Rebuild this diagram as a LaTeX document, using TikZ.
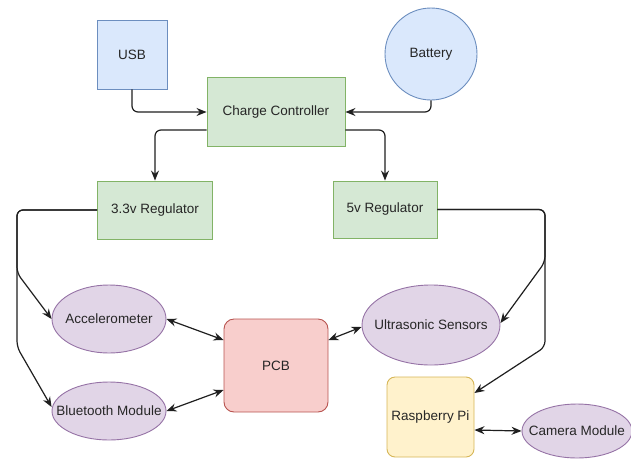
\documentclass[tikz,border=0pt]{standalone}
\usepackage{fontspec}
\setmainfont{Liberation Sans}
\usetikzlibrary{shapes.geometric,arrows.meta}
\definecolor{bluef}{HTML}{DAE8FC}\definecolor{blued}{HTML}{6C8EBF}
\definecolor{greenf}{HTML}{D5E8D4}\definecolor{greend}{HTML}{82B366}
\definecolor{purf}{HTML}{E1D5E7}\definecolor{purd}{HTML}{9673A6}
\definecolor{redf}{HTML}{F8CECC}\definecolor{redd}{HTML}{B85450}
\definecolor{yelf}{HTML}{FFF2CC}\definecolor{yeld}{HTML}{D6B656}
\newcommand{\zw}[1]{\makebox[0pt]{#1}}
\tikzset{
  base/.style={inner sep=0pt, line width=0.9pt, font=\fontsize{13.5}{16}\selectfont, text=black!85},
  bluebox/.style={base, draw=blued, fill=bluef, rectangle},
  greenbox/.style={base, draw=greend, fill=greenf, rectangle},
  purell/.style={base, draw=purd, fill=purf, ellipse},
  redbox/.style={base, draw=redd, fill=redf, rectangle, rounded corners=10pt},
  yelbox/.style={base, draw=yeld, fill=yelf, rectangle, rounded corners=8pt},
  arr/.style={line width=1.2pt, draw=black!88, rounded corners=6pt, -{Stealth[length=10pt,width=8pt]}},
  darr/.style={line width=1.2pt, draw=black!88, {Stealth[length=10pt,width=8pt]}-{Stealth[length=10pt,width=8pt]}},
}
\begin{document}
\begin{tikzpicture}[x=1pt,y=-1pt]
\useasboundingbox (0,0) rectangle (631,458);
\node[bluebox, minimum width=70pt, minimum height=69pt] (usb) at (132,54.5) {USB};
\node[bluebox, circle, minimum size=92pt] (bat) at (431,54) {\zw{Battery}};
\node[greenbox, minimum width=138pt, minimum height=69pt] (cc) at (276,112) {Charge Controller};
\node[greenbox, minimum width=115pt, minimum height=58pt] (r33) at (155,210) {3.3v Regulator};
\node[greenbox, minimum width=104pt, minimum height=57pt] (r5) at (385,209.5) {5v Regulator};
\node[purell, minimum width=114pt, minimum height=68pt] (acc) at (109,319) {\zw{Accelerometer}};
\node[purell, minimum width=114pt, minimum height=58pt] (bt) at (109,411) {\zw{Bluetooth Module}};
\node[redbox, minimum width=104pt, minimum height=93pt] (pcb) at (276,365.5) {PCB};
\node[purell, minimum width=138pt, minimum height=80pt] (us) at (431,325) {\zw{Ultrasonic Sensors}};
\node[yelbox, minimum width=87pt, minimum height=80pt] (rpi) at (430.5,417) {Raspberry Pi};
\node[purell, minimum width=110pt, minimum height=54pt] (cam) at (577,431) {\zw{Camera Module}};
\coordinate (lk1) at (17,273);
\coordinate (lk2) at (17,347);
\coordinate (rk1) at (545,262);
\coordinate (rk2) at (545,347);
\draw[arr] (usb.south) |- (cc.west);
\draw[arr] (bat.south) |- (cc.east);
\draw[arr] ([yshift=-18pt]cc.west) -| (r33.north);
\draw[arr] ([yshift=-18pt]cc.east) -| (r5.north);
\draw[arr] (r33.west) -| (lk1) -- (acc.west);
\draw[arr] (r33.west) -| (lk2) -- ([yshift=4pt]bt.west);
\draw[arr] (r5.east) -| (rk1) -- ([yshift=2pt]us.east);
\draw[arr] (r5.east) -| (rk2) -- ([yshift=24pt]rpi.east);
\draw[darr] (acc.east) -- ([yshift=25.5pt]pcb.west);
\draw[darr] (bt.east) -- ([yshift=-24.5pt]pcb.west);
\draw[darr] ([yshift=25.5pt]pcb.east) -- ([yshift=-2pt]us.west);
\draw[darr] ([yshift=-13pt]rpi.east) -- (cam.west);
\end{tikzpicture}
\end{document}
